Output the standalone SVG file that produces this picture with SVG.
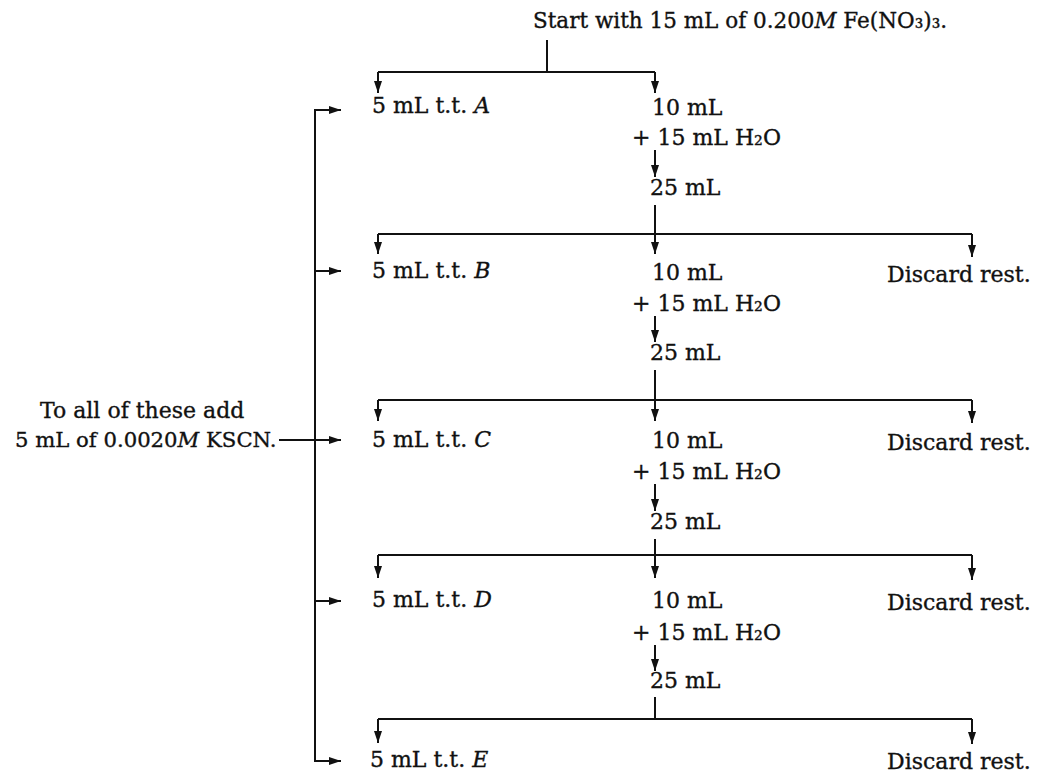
<svg xmlns="http://www.w3.org/2000/svg" width="1038" height="772" viewBox="0 0 1038 772">
<style>
  text { font-family: "DejaVu Serif", "Liberation Serif", serif; font-size: 22px; fill: #111; stroke: #111; stroke-width: 0.35; }
  .it { font-style: italic; }
  .ln { fill: none; stroke: #111; stroke-width: 2; }
  .ar { fill: none; stroke: #111; stroke-width: 2; marker-end: url(#ah); }
</style>
<defs>
  <marker id="ah" markerUnits="userSpaceOnUse" markerWidth="14" markerHeight="9" refX="12" refY="4.5" orient="auto">
    <path d="M0,0.5 L12,4.5 L0,8.5 Z" fill="#111"/>
  </marker>
</defs>
<rect width="1038" height="772" fill="#fff"/>

<g id="connectors">
  <path class="ln" d="M547,40 V72" stroke-width="3"/>
  <path class="ln" d="M378,72 H655"/>
  <path class="ar" d="M378,72 V93"/>
  <path class="ar" d="M655,72 V93"/>
  <path class="ar" d="M655,150 V177"/>
  <path class="ar" d="M655,205 V254"/>
  <path class="ln" d="M378,234 H972"/>
  <path class="ar" d="M378,234 V254"/>
  <path class="ar" d="M972,234 V257"/>
  <path class="ar" d="M655,316 V342"/>
  <path class="ar" d="M655,370 V421"/>
  <path class="ln" d="M378,400 H972"/>
  <path class="ar" d="M378,400 V421"/>
  <path class="ar" d="M972,400 V423"/>
  <path class="ar" d="M655,484 V511"/>
  <path class="ar" d="M655,539 V578"/>
  <path class="ln" d="M378,555 H972"/>
  <path class="ar" d="M378,555 V578"/>
  <path class="ar" d="M972,555 V580"/>
  <path class="ar" d="M655,645 V671"/>
  <path class="ln" d="M655,697 V719"/>
  <path class="ln" d="M378,719 H972"/>
  <path class="ar" d="M378,719 V743"/>
  <path class="ar" d="M972,719 V744"/>
  <path class="ln" d="M315,110 V761"/>
  <path class="ar" d="M314,110 H341"/>
  <path class="ar" d="M315,271 H341"/>
  <path class="ar" d="M279,440 H341"/>
  <path class="ar" d="M315,601 H341"/>
  <path class="ar" d="M314,761 H341"/>
</g>

<g id="start"><text x="533" y="28" style="font-size:21.5px">Start with 15 mL of 0.200<tspan class="it">M</tspan> Fe(NO₃)₃.</text></g>
<g id="kscn">
  <text x="40" y="418">To all of these add</text>
  <text x="15" y="447" style="font-size:21.2px">5 mL of 0.0020<tspan class="it">M</tspan> KSCN.</text>
</g>

<g id="tt-A"><text x="372" y="113">5 mL t.t. <tspan class="it">A</tspan></text></g>
<g id="tt-B"><text x="372" y="278">5 mL t.t. <tspan class="it">B</tspan></text></g>
<g id="tt-C"><text x="372" y="447">5 mL t.t. <tspan class="it">C</tspan></text></g>
<g id="tt-D"><text x="372" y="607">5 mL t.t. <tspan class="it">D</tspan></text></g>
<g id="tt-E"><text x="370" y="767">5 mL t.t. <tspan class="it">E</tspan></text></g>

<g id="dil-1">
  <text x="652" y="115">10 mL</text>
  <text x="632" y="145">+ 15 mL H₂O</text>
  <text x="650" y="195">25 mL</text>
</g>
<g id="dil-2">
  <text x="652" y="280">10 mL</text>
  <text x="632" y="311">+ 15 mL H₂O</text>
  <text x="650" y="360">25 mL</text>
</g>
<g id="dil-3">
  <text x="652" y="448">10 mL</text>
  <text x="632" y="479">+ 15 mL H₂O</text>
  <text x="650" y="529">25 mL</text>
</g>
<g id="dil-4">
  <text x="652" y="608">10 mL</text>
  <text x="632" y="640">+ 15 mL H₂O</text>
  <text x="650" y="688">25 mL</text>
</g>

<g id="discard-B"><text x="887" y="282">Discard rest.</text></g>
<g id="discard-C"><text x="887" y="450">Discard rest.</text></g>
<g id="discard-D"><text x="887" y="610">Discard rest.</text></g>
<g id="discard-E"><text x="887" y="769">Discard rest.</text></g>
</svg>
